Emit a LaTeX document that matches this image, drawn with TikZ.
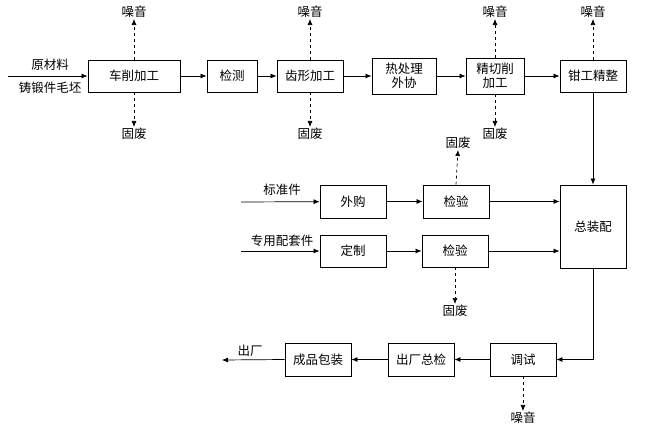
\documentclass[tikz,border=0pt]{standalone}
\usepackage{fontspec}
\newfontfamily\cjk{Noto Sans CJK SC}
\usetikzlibrary{arrows.meta}
\begin{document}
\begin{tikzpicture}[x=1pt,y=-1pt,font=\cjk\fontsize{12.5}{14}\selectfont,
 box/.style={draw,line width=0.9pt,inner sep=0pt,align=center},
 lab/.style={inner sep=1pt},
 arr/.style={-{Latex[length=6pt,width=5pt]},line width=0.7pt},
 dsh/.style={arr,dashed}]
\useasboundingbox (0,0) rectangle (645,433);
\newcommand\bx[6]{\node[box,minimum width=#4-#2,minimum height=#5-#3] (#1) at ({(#2+#4)/2},{(#3+#5)/2}) {#6};}
\bx{a}{88}{60}{180}{92}{车削加工}
\bx{b}{207}{60}{257}{92}{检测}
\bx{c}{277}{60}{343}{92}{齿形加工}
\bx{d}{372}{58}{436}{94}{热处理\\外协}
\bx{e}{466}{58}{524}{94}{精切削\\加工}
\bx{f}{560}{60}{626}{92}{钳工精整}
\bx{g}{320}{185}{386}{218}{外购}
\bx{h}{423}{185}{489}{218}{检验}
\bx{z}{560}{185}{626}{268}{总装配}
\bx{i}{320}{235}{386}{267}{定制}
\bx{j}{422}{235}{488}{267}{检验}
\bx{k}{490}{343}{556}{376}{调试}
\bx{l}{388}{343}{454}{376}{出厂总检}
\bx{m}{285}{343}{351}{376}{成品包装}
% noise/waste labels
\node[lab] (n1) at (134,12) {噪音};
\node[lab] (w1) at (134,134) {固废};
\node[lab] (n2) at (310,12) {噪音};
\node[lab] (w2) at (310,134) {固废};
\node[lab] (n3) at (495,12) {噪音};
\node[lab] (w3) at (495,134) {固废};
\node[lab] (n4) at (593,12) {噪音};
\node[lab] (w4) at (458,143) {固废};
\node[lab] (w5) at (455,311) {固废};
\node[lab] (n5) at (523,418) {噪音};
\foreach \s/\t in {a/n1,c/n2,e/n3,f/n4} \draw[dsh] (\s.north) -- (\t.south);
\foreach \s/\t in {a/w1,c/w2,e/w3,j/w5,k/n5} \draw[dsh] (\s.south) -- (\t.north);
\draw[dsh] (h.north) -- (w4.south);
% main chain
\coordinate (in1) at (8,76);
\draw[arr] (in1) -- (a);
\node at (50,65) {原材料};
\node at (50,88) {铸锻件毛坯};
\draw[arr] (a) -- (b);
\draw[arr] (b) -- (c);
\draw[arr] (c) -- (d);
\draw[arr] (d) -- (e);
\draw[arr] (e) -- (f);
\draw[arr] (f) -- (z);
\coordinate (in2) at (241,202);
\coordinate (in3) at (241,251);
\draw[arr] (in2) -- (g);
\node at (282,190) {标准件};
\draw[arr] (in3) -- (i);
\node at (282,241) {专用配套件};
\draw[arr] (g) -- (h);
\draw[arr] (i) -- (j);
\draw[arr] (h.east) -- (h.east -| z.west);
\draw[arr] (j.east) -- (j.east -| z.west);
\draw[arr] (z.south) |- (k.east);
\draw[arr] (k) -- (l);
\draw[arr] (l) -- (m);
\coordinate (out) at (222,360);
\draw[arr] (m.west) -- (out);
\node at (250,351) {出厂};
\end{tikzpicture}
\end{document}
